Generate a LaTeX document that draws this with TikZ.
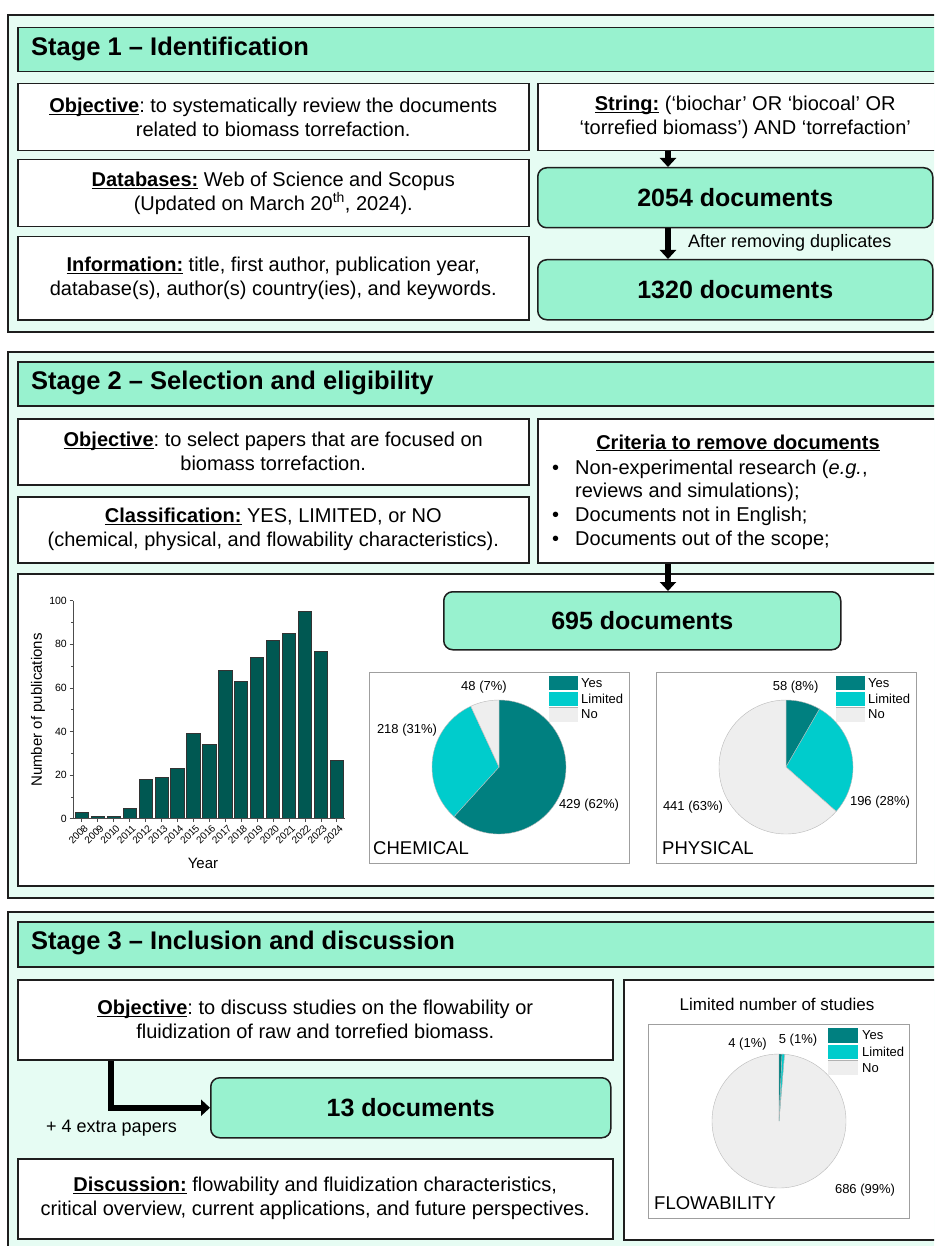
\documentclass[tikz,border=0pt]{standalone}
\usepackage{fontspec}
\setmainfont{Liberation Sans}
\usetikzlibrary{arrows.meta}
\definecolor{bgmint}{RGB}{230,252,243}
\definecolor{hdmint}{RGB}{152,242,207}
\definecolor{yescol}{RGB}{0,128,128}
\definecolor{limcol}{RGB}{0,204,204}
\definecolor{nocol}{RGB}{238,238,238}
\definecolor{barcol}{RGB}{0,88,82}
\definecolor{edge}{RGB}{30,30,30}
\newcommand\ulbf[1]{\underline{\smash{\textbf{#1}}}}
\frenchspacing
\begin{document}
\begin{tikzpicture}[x=1pt,y=-1pt,
  stagebox/.style={draw=edge, line width=1.5pt, fill=bgmint},
  hdbox/.style={draw=edge, line width=1.5pt, fill=hdmint, inner sep=0pt, anchor=north west},
  wbox/.style={draw=edge, line width=1.5pt, fill=white, inner sep=0pt, anchor=north west, align=center, font=\fontsize{20}{24}\selectfont},
  docbox/.style={draw=edge, line width=1.5pt, fill=hdmint, rounded corners=9pt, inner sep=0pt, anchor=north west, font=\bfseries\fontsize{25}{30}\selectfont},
  titletext/.style={anchor=west, font=\bfseries\fontsize{25.5}{30}\selectfont, inner sep=0pt},
  bodytext/.style={inner sep=0pt, font=\fontsize{20}{24}\selectfont},
  smalltext/.style={inner sep=0pt, font=\fontsize{18}{22}\selectfont},
  chartbox/.style={draw=gray!75, line width=0.8pt, fill=white, inner sep=0pt, anchor=north west},
  pielab/.style={inner sep=0pt, font=\fontsize{13}{15}\selectfont},
  leglab/.style={inner sep=0pt, anchor=west, font=\fontsize{13}{15}\selectfont},
  charttitle/.style={inner sep=0pt, anchor=west, font=\fontsize{18.5}{22}\selectfont},
  slice/.style={draw=gray!55, line width=0.4pt},
  ticklab/.style={inner sep=0pt, anchor=east, font=\fontsize{10.5}{12}\selectfont},
  yearlab/.style={inner sep=0pt, anchor=east, rotate=45, font=\fontsize{10}{12}\selectfont},
  axislab/.style={inner sep=0pt, font=\fontsize{15}{18}\selectfont},
  bigarrow/.style={line width=6pt, draw=black, -{Triangle[length=9pt,width=16pt]}},
]
\useasboundingbox (0,0) rectangle (934,1246);
\clip (0,0) rectangle (934,1246);
\fill[white] (0,0) rectangle (934,1246);

% ================= Stage 1 =================
\draw[stagebox] (8,15) rectangle (960,332);
\node[hdbox, minimum width=943pt, minimum height=44pt] (hd1) at (17,27) {};
\node[titletext] (t1) at (31,49) {Stage 1 – Identification};
\node[wbox, minimum width=511pt, minimum height=67pt] (obj1) at (17,83)
  {\ulbf{Objective}: to systematically review the documents\\ related to biomass torrefaction.};
\node[wbox, minimum width=511pt, minimum height=67pt] (db) at (17,159)
  {\ulbf{Databases:} Web of Science and Scopus\\ (Updated on March 20\textsuperscript{th}, 2024).};
\node[wbox, minimum width=511pt, minimum height=83pt] (info) at (17,236)
  {\ulbf{Information:} title, first author, publication year,\\ database(s), author(s) country(ies), and keywords.};
\node[wbox, minimum width=415pt, minimum height=67pt] (str) at (537,83)
  {\ulbf{String:} (‘biochar’ OR ‘biocoal’ OR\\ ‘torrefied biomass’) AND ‘torrefaction’};
\node[docbox, minimum width=395pt, minimum height=60pt] (d2054) at (537,167) {2054 documents};
\node[docbox, minimum width=395pt, minimum height=60pt] (d1320) at (537,259) {1320 documents};
\coordinate (a1) at (668,0);
\draw[bigarrow] (str.south -| a1) -- (d2054.north -| a1);
\draw[bigarrow] (d2054.south -| a1) -- (d1320.north -| a1);
\node[smalltext, anchor=west] (dup) at (688,243) {After removing duplicates};

% ================= Stage 2 =================
\draw[stagebox] (8,352) rectangle (960,898);
\node[hdbox, minimum width=943pt, minimum height=44pt] (hd2) at (17,361) {};
\node[titletext] (t2) at (31,383) {Stage 2 – Selection and eligibility};
\node[wbox, minimum width=511pt, minimum height=66pt] (obj2) at (17,418)
  {\ulbf{Objective}: to select papers that are focused on\\ biomass torrefaction.};
\node[wbox, minimum width=511pt, minimum height=66pt] (cls) at (17,496)
  {\ulbf{Classification:} YES, LIMITED, or NO\\ (chemical, physical, and flowability characteristics).};
\node[wbox, minimum width=423pt, minimum height=144pt] (crit) at (537,418) {};
\node[bodytext, anchor=base] (crh) at (738,449) {\ulbf{Criteria to remove documents}};
\node[bodytext, anchor=base west] (b1) at (552,474) {•};
\node[bodytext, anchor=base west] (c1) at (575,474) {Non-experimental research (\textit{e.g.},};
\node[bodytext, anchor=base west] (c1b) at (575,497.5) {reviews and simulations);};
\node[bodytext, anchor=base west] (b2) at (552,521) {•};
\node[bodytext, anchor=base west] (c2) at (575,521) {Documents not in English;};
\node[bodytext, anchor=base west] (b3) at (552,545) {•};
\node[bodytext, anchor=base west] (c3) at (575,545) {Documents out of the scope;};
\node[wbox, minimum width=943pt, minimum height=312pt] (cont) at (17,573) {};
\node[docbox, minimum width=397pt, minimum height=58pt] (d695) at (443,591) {695 documents};
\draw[bigarrow] (crit.south -| a1) -- (d695.north -| a1);

% ---- bar chart ----
\coordinate (org) at (73,818.7);
\foreach \v [count=\i from 0] in {3,1,1,5,18,19,23,39,34,68,63,74,82,85,95,77,27} {
  \pgfmathsetmacro\xc{81.7+15.94*\i}
  \pgfmathtruncatemacro\yr{2008+\i}
  \draw[fill=barcol, draw=black!80, line width=0.5pt] (\xc-6.6,818.7) rectangle (\xc+6.6,818.7-2.18*\v);
  \draw[line width=0.6pt, draw=black!70] (\xc,818.7) -- (\xc,821.5);
  \node[yearlab] (yr\i) at (\xc+4.5,826.5) {\yr};
}
\draw[line width=0.7pt, draw=black!70] (73,600.7) -- (org) -- (345,818.7);
\foreach \t in {0,20,40,60,80,100} {
  \draw[line width=0.6pt, draw=black!70] (69.5,818.7-2.18*\t) -- (73,818.7-2.18*\t);
  \node[ticklab] (tk\t) at (67,818.7-2.18*\t) {\t};
}
\foreach \t in {10,30,50,70,90} {
  \draw[line width=0.6pt, draw=black!70] (71,818.7-2.18*\t) -- (73,818.7-2.18*\t);
}
\node[axislab, rotate=90] (ylab) at (38,710) {Number of publications};
\node[axislab] (xlab) at (203,863) {Year};

% ---- chemical pie ----
\node[chartbox, minimum width=260pt, minimum height=191pt] (chem) at (369,672) {};
\coordinate (chc) at (499,767);
\filldraw[yescol, slice] (chc) -- ++(90:67pt) arc[start angle=90, end angle=-132.2, radius=67pt] -- cycle;
\filldraw[limcol, slice] (chc) -- ++(-132.2:67pt) arc[start angle=-132.2, end angle=-245.1, radius=67pt] -- cycle;
\filldraw[nocol, slice] (chc) -- ++(-245.1:67pt) arc[start angle=-245.1, end angle=-270, radius=67pt] -- cycle;
\fill[yescol] (548.5,676) rectangle (578,690);
\fill[limcol] (548.5,691.5) rectangle (578,706);
\fill[nocol] (548.5,707.5) rectangle (578,722);
\draw[gray!60, line width=0.5pt] (548.5,707.5) -- (578,707.5);
\node[leglab] (chy) at (581,683) {Yes};
\node[leglab] (chl) at (581,698.5) {Limited};
\node[leglab] (chn) at (581,714.5) {No};
\node[pielab] (chp1) at (484,687) {48 (7\%)};
\node[pielab] (chp2) at (407,730) {218 (31\%)};
\node[pielab] (chp3) at (589,805) {429 (62\%)};
\node[charttitle] (cht) at (373,848) {CHEMICAL};

% ---- physical pie ----
\node[chartbox, minimum width=260pt, minimum height=191pt] (phys) at (656,672) {};
\coordinate (phc) at (786,767);
\filldraw[yescol, slice] (phc) -- ++(90:67pt) arc[start angle=90, end angle=60, radius=67pt] -- cycle;
\filldraw[limcol, slice] (phc) -- ++(60:67pt) arc[start angle=60, end angle=-41.5, radius=67pt] -- cycle;
\filldraw[nocol, slice] (phc) -- ++(-41.5:67pt) arc[start angle=-41.5, end angle=-270, radius=67pt] -- cycle;
\fill[yescol] (836,676) rectangle (865,690);
\fill[limcol] (836,691.5) rectangle (865,706);
\fill[nocol] (836,707.5) rectangle (865,722);
\draw[gray!60, line width=0.5pt] (836,707.5) -- (865,707.5);
\node[leglab] (phy) at (868,683) {Yes};
\node[leglab] (phl) at (868,698.5) {Limited};
\node[leglab] (phn) at (868,714.5) {No};
\node[pielab] (php1) at (795.6,687) {58 (8\%)};
\node[pielab] (php2) at (880,802) {196 (28\%)};
\node[pielab] (php3) at (693,807) {441 (63\%)};
\node[charttitle] (pht) at (662,848) {PHYSICAL};

% ================= Stage 3 =================
\draw[stagebox] (8,912) rectangle (960,1262);
\node[hdbox, minimum width=943pt, minimum height=45pt] (hd3) at (17,921) {};
\node[titletext] (t3) at (31,943) {Stage 3 – Inclusion and discussion};
\node[wbox, minimum width=595pt, minimum height=80pt] (obj3) at (17,979)
  {\ulbf{Objective}: to discuss studies on the flowability or\\ fluidization of raw and torrefied biomass.};
\node[docbox, minimum width=400pt, minimum height=60pt] (d13) at (210,1077) {13 documents};
\node[wbox, minimum width=595pt, minimum height=80pt] (disc) at (17,1158)
  {\ulbf{Discussion:} flowability and fluidization characteristics,\\ critical overview, current applications, and future perspectives.};
\coordinate (a3) at (111,0);
\draw[bigarrow] (obj3.south -| a3) |- (d13.west);
\node[smalltext] (extra) at (111.5,1128) {+ 4 extra papers};
\node[wbox, minimum width=337pt, minimum height=260pt] (rbox) at (623,979) {};
\node[inner sep=0pt, font=\fontsize{17}{20}\selectfont] (lim) at (777,1004) {Limited number of studies};
\node[chartbox, minimum width=261pt, minimum height=194pt] (flow) at (648,1024) {};
\coordinate (flc) at (779,1121);
\filldraw[nocol, slice] (flc) -- ++(85.3:67pt) arc[start angle=85.3, end angle=-270, radius=67pt] -- cycle;
\filldraw[yescol, slice] (flc) -- ++(90:67pt) arc[start angle=90, end angle=87.4, radius=67pt] -- cycle;
\filldraw[limcol, slice] (flc) -- ++(87.4:67pt) arc[start angle=87.4, end angle=85.3, radius=67pt] -- cycle;
\fill[yescol] (828,1028) rectangle (858,1043);
\fill[limcol] (828,1044.5) rectangle (858,1059);
\fill[nocol] (828,1060.5) rectangle (858,1075);
\draw[gray!60, line width=0.5pt] (828,1060.5) -- (858,1060.5);
\node[leglab] (fly) at (862,1035.5) {Yes};
\node[leglab] (fll) at (862,1052) {Limited};
\node[leglab] (fln) at (862,1068) {No};
\node[pielab] (flp1) at (747.5,1044) {4 (1\%)};
\node[pielab] (flp2) at (798,1040) {5 (1\%)};
\node[pielab] (flp3) at (865,1190) {686 (99\%)};
\node[charttitle] (flt) at (654,1203) {FLOWABILITY};
\end{tikzpicture}
\end{document}
